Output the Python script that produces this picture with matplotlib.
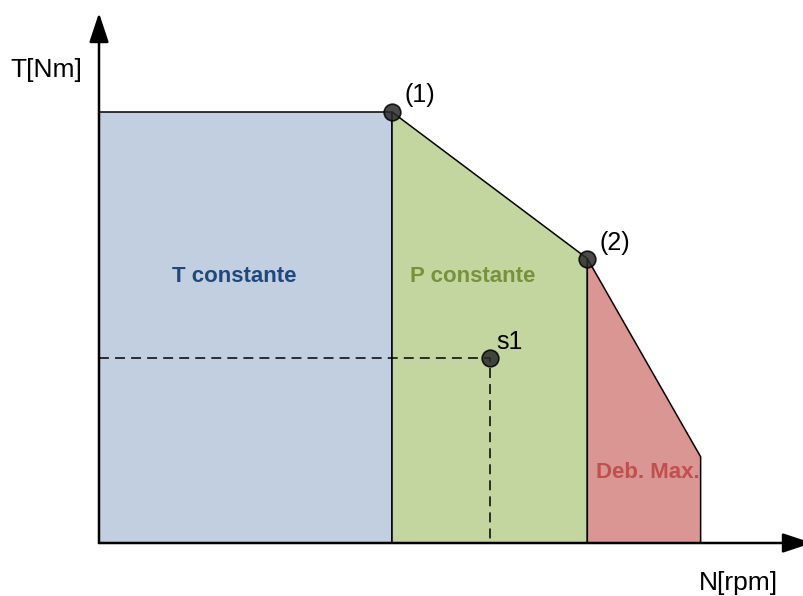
import matplotlib
matplotlib.use("Agg")
import matplotlib.pyplot as plt

plt.rcParams['font.family'] = ['Liberation Sans', 'DejaVu Sans']

# operating envelope of the drive (speed in rpm, torque in Nm)
N_BASE = 1500      # point (1)
N_KNEE = 2500      # point (2)
N_MAX = 3080
T_RATED = 100
T_KNEE = 66
T_END = 20
S1 = (2000, 43)    # operating point s1

region_labels = ["T constante", "P constante", "Deb. Max."]
point_labels = ["(1)", "(2)", "s1"]

# pixel scale of the drawing
PX_PER_RPM = 293 / 1500
PX_PER_NM = 431 / 100
X0, Y0 = 99, 543   # origin in pixels (from top-left)

fig = plt.figure(figsize=(8.04, 5.96), dpi=100)
ax = fig.add_axes([0, 0, 1, 1])
ax.set_xlim(-X0 / PX_PER_RPM, (804 - X0) / PX_PER_RPM)
ax.set_ylim(-(596 - Y0) / PX_PER_NM, Y0 / PX_PER_NM)
ax.axis('off')


def px(x, y):
    """pixel position (top-left origin) -> data coords"""
    return (x - X0) / PX_PER_RPM, (Y0 - y) / PX_PER_NM


edge = dict(edgecolor='black', linewidth=1.1, joinstyle='miter')
ax.fill([0, 0, N_BASE, N_BASE], [0, T_RATED, T_RATED, 0], facecolor='#C1CFE1', **edge)
ax.fill([N_BASE, N_BASE, N_KNEE, N_KNEE], [0, T_RATED, T_KNEE, 0], facecolor='#C4D69F', **edge)
red = ax.fill([N_KNEE, N_KNEE, N_MAX, N_MAX], [0, T_KNEE, T_END, 0], facecolor='#D99693', **edge)[0]

# dashed projections of s1
ax.plot([0, S1[0], S1[0]], [S1[1], S1[1], 0], color='black', lw=1.1,
        dashes=(6.5, 4), zorder=3)

# axes with arrows
arrow = dict(arrowstyle='-|>,head_length=0.6,head_width=0.2', color='black',
             lw=1.8, mutation_scale=30, shrinkA=0, shrinkB=0)
ax.annotate('', xy=px(X0, 13), xytext=(0, 0), arrowprops=arrow, zorder=5,
            annotation_clip=False)
ax.annotate('', xy=px(812, Y0), xytext=(0, 0), arrowprops=arrow, zorder=5,
            annotation_clip=False)

# points
pts = [(N_BASE, T_RATED), (N_KNEE, T_KNEE), S1]
offsets = [(20, 12), (20, 11.5), (14, 11)]
for (x, y), lab, off in zip(pts, point_labels, offsets):
    ax.plot(x, y, 'o', ms=12, mfc='#2a2a2a', mec='black', mew=1.2, alpha=0.85, zorder=6)
    ax.annotate(lab, (x, y), xytext=off, textcoords='offset points',
                ha='center', va='center', fontsize=18)

# region labels
ax.text(*px(234, 276), region_labels[0], color='#1F497D', fontsize=16,
        fontweight='bold', ha='center', va='center')
ax.text(*px(473, 276), region_labels[1], color='#76923C', fontsize=16,
        fontweight='bold', ha='center', va='center')
t = ax.text(*px(648, 473), region_labels[2], color='#C0504D', fontsize=16,
            fontweight='bold', ha='center', va='center')
t.set_clip_path(red)

# axis labels
ax.text(*px(46, 70), "T[Nm]", fontsize=19, ha='center', va='center')
ax.text(*px(738, 583), "N[rpm]", fontsize=19, ha='center', va='center')

fig.savefig('out.png', dpi=100)
